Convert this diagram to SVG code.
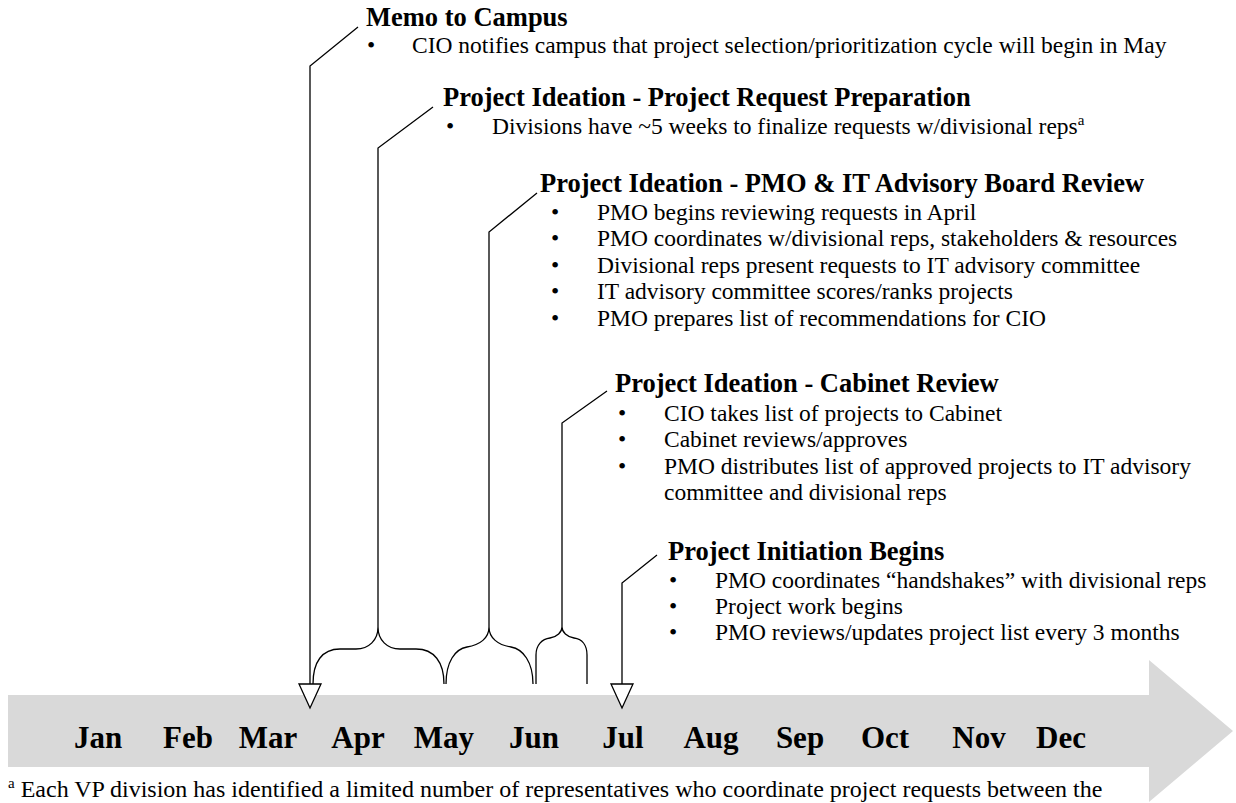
<svg xmlns="http://www.w3.org/2000/svg" width="1236" height="803" viewBox="0 0 1236 803">
  <style>
    .hd { font-family: "Liberation Serif", "Times New Roman", serif; font-weight: bold; font-size: 26.5px; fill: #000; }
    .tx { font-family: "Liberation Serif", "Times New Roman", serif; font-size: 23.5px; fill: #000; }
    .bl { font-family: "Liberation Serif", "Times New Roman", serif; font-size: 23.5px; fill: #000; text-anchor: middle; }
    .fn { font-family: "Liberation Serif", "Times New Roman", serif; font-size: 24px; fill: #000; }
    .mo { font-family: "Liberation Serif", "Times New Roman", serif; font-weight: bold; font-size: 31px; fill: #000; text-anchor: middle; }
    .ln { fill: none; stroke: #000; stroke-width: 1.3; }
    .tri { fill: #fff; stroke: #000; stroke-width: 1.3; stroke-linejoin: miter; }
  </style>

  <!-- timeline band -->
  <g id="timeline">
    <polygon points="8,695 1149,695 1149,660 1233,731 1149,802 1149,767 8,767" fill="#d9d9d9"/>
    <text class="mo" x="98" y="748">Jan</text>
    <text class="mo" x="188" y="748">Feb</text>
    <text class="mo" x="268" y="748">Mar</text>
    <text class="mo" x="358" y="748">Apr</text>
    <text class="mo" x="444" y="748">May</text>
    <text class="mo" x="534" y="748">Jun</text>
    <text class="mo" x="623" y="748">Jul</text>
    <text class="mo" x="711" y="748">Aug</text>
    <text class="mo" x="800" y="748">Sep</text>
    <text class="mo" x="885" y="748">Oct</text>
    <text class="mo" x="979" y="748">Nov</text>
    <text class="mo" x="1061" y="748">Dec</text>
  </g>

  <!-- leaders, braces and markers -->
  <g id="connectors">
    <polyline class="ln" points="358,27 310,66 310,684"/>
    <polyline class="ln" points="433,107 378,148 378,627"/>
    <polyline class="ln" points="537,193 489,232 489,627"/>
    <polyline class="ln" points="607,391 562,423 562,627"/>
    <polyline class="ln" points="657,555 622,583 622,684"/>
    <path class="ln" d="M313,684 C313,662 322,649 340,649 L356,649 C369,649 378,640 378,627 C378,640 387,649 400,649 L416,649 C434,649 444,662 444,684"/>
    <path class="ln" d="M446,684 C446,662 455,649 467,647 C480,645 489,638 489,627 C489,638 498,645 511,647 C523,649 533,662 533,684"/>
    <path class="ln" d="M536,684 L536,655 C536,645 542,639 550,638 C557,637 562,632 562,627 C562,632 567,637 574,638 C582,639 587,645 587,655 L587,684"/>
    <polygon class="tri" points="299,684 321,684 310,708"/>
    <polygon class="tri" points="611,684 633,684 622,708"/>
  </g>

  <g id="memo">
    <text class="hd" x="366" y="26">Memo to Campus</text>
    <text class="bl" x="371" y="53">•</text>
    <text class="tx" x="412" y="53">CIO notifies campus that project selection/prioritization cycle will begin in May</text>
  </g>

  <g id="request-prep">
    <text class="hd" x="443" y="106">Project Ideation - Project Request Preparation</text>
    <text class="bl" x="450" y="134">•</text>
    <text class="tx" x="492" y="134">Divisions have ~5 weeks to finalize requests w/divisional reps<tspan font-size="15" dy="-9">a</tspan></text>
  </g>

  <g id="board-review">
    <text class="hd" x="540" y="192">Project Ideation - PMO &amp; IT Advisory Board Review</text>
    <text class="bl" x="555" y="220">•</text>
    <text class="tx" x="597" y="220">PMO begins reviewing requests in April</text>
    <text class="bl" x="555" y="246">•</text>
    <text class="tx" x="597" y="246">PMO coordinates w/divisional reps, stakeholders &amp; resources</text>
    <text class="bl" x="555" y="273">•</text>
    <text class="tx" x="597" y="273">Divisional reps present requests to IT advisory committee</text>
    <text class="bl" x="555" y="299">•</text>
    <text class="tx" x="597" y="299">IT advisory committee scores/ranks projects</text>
    <text class="bl" x="555" y="326">•</text>
    <text class="tx" x="597" y="326">PMO prepares list of recommendations for CIO</text>
  </g>

  <g id="cabinet-review">
    <text class="hd" x="615" y="392">Project Ideation - Cabinet Review</text>
    <text class="bl" x="622" y="421">•</text>
    <text class="tx" x="664" y="421">CIO takes list of projects to Cabinet</text>
    <text class="bl" x="622" y="447">•</text>
    <text class="tx" x="664" y="447">Cabinet reviews/approves</text>
    <text class="bl" x="622" y="474">•</text>
    <text class="tx" x="664" y="474">PMO distributes list of approved projects to IT advisory</text>
    <text class="tx" x="664" y="500">committee and divisional reps</text>
  </g>

  <g id="initiation">
    <text class="hd" x="668" y="560">Project Initiation Begins</text>
    <text class="bl" x="673" y="588">•</text>
    <text class="tx" x="715" y="588">PMO coordinates “handshakes” with divisional reps</text>
    <text class="bl" x="673" y="614">•</text>
    <text class="tx" x="715" y="614">Project work begins</text>
    <text class="bl" x="673" y="640">•</text>
    <text class="tx" x="715" y="640">PMO reviews/updates project list every 3 months</text>
  </g>

  <g id="footnote">
    <text class="fn" x="8" y="797"><tspan font-size="15" dy="-9">a</tspan><tspan dy="9"> Each VP division has identified a limited number of representatives who coordinate project requests between the</tspan></text>
  </g>
</svg>
